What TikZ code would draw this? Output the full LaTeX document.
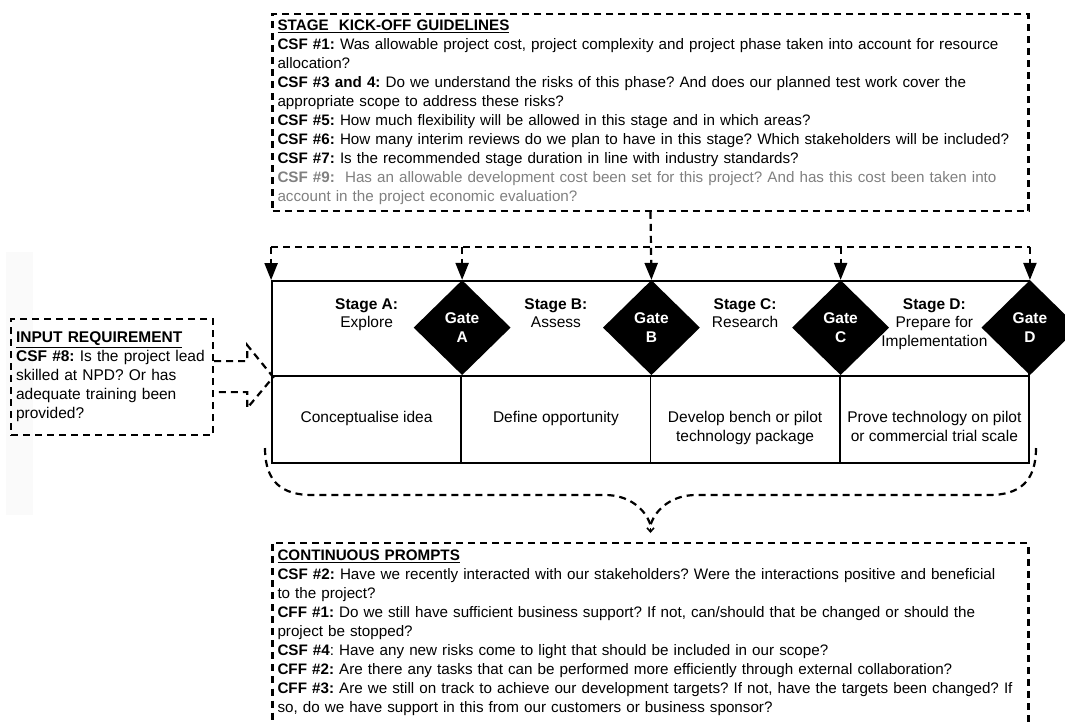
\documentclass[tikz,border=0pt]{standalone}
\usepackage{fontspec}
\setmainfont{Liberation Sans}
\usetikzlibrary{arrows.meta,positioning,shapes.geometric,calc}
\definecolor{csfgray}{RGB}{128,128,128}
\definecolor{stripgray}{RGB}{250,250,250}
\frenchspacing

\begin{document}
\begin{tikzpicture}[
  x=1pt, y=-1pt,
  every node/.style={font=\fontsize{15.2}{19}\selectfont},
  dline/.style={line width=2.2pt,dash pattern=on 7pt off 5pt},
  darr/.style={dline,-{Triangle[length=17pt,width=13pt]}},
  dbox/.style={dline,draw,align=left,inner xsep=5pt,inner ysep=6pt},
  frame/.style={draw,line width=1.8pt,inner sep=0pt,minimum height=95pt,minimum width=757pt},
  cell/.style={draw,line width=1.8pt,inner sep=0pt,minimum width=189.25pt,minimum height=87pt},
  celltext/.style={align=center,inner sep=0pt,font=\fontsize{15.5}{19}\selectfont},
  stagelbl/.style={align=center,inner sep=0pt,font=\fontsize{15.5}{18.5}\selectfont},
  gate/.style={diamond,fill=black,inner sep=0pt,minimum width=97pt,minimum height=95pt,
               align=center,text=white,font=\fontsize{15.5}{19}\selectfont\bfseries},
]
  \useasboundingbox (0,0) rectangle (1065,721);
  \clip (0,0) rectangle (1065,721);

  % faint strip on the left
  \fill[stripgray] (6,252) rectangle (33,515);

  % stage row and deliverable cells
  \node[frame] (stagerow) at (650.5,328.5) {};
  \node[cell] (cellA) at (366.6,419.5) {};
  \node[cell] (cellB) at (555.9,419.5) {};
  \node[cell] (cellC) at (745.1,419.5) {};
  \node[cell] (cellD) at (934.4,419.5) {};

  \node[celltext,below=36pt of cellA.north] (txtA) {Conceptualise idea};
  \node[celltext,below=36pt of cellB.north] (txtB) {Define opportunity};
  \node[celltext,below=36pt of cellC.north] (txtC) {Develop bench or pilot\\technology package};
  \node[celltext,below=36pt of cellD.north] (txtD) {Prove technology on pilot\\or commercial trial scale};

  % stage labels
  \node[stagelbl,anchor=north] (labA) at ($(cellA.north)+(0,-77)$) {\textbf{Stage A:}\\Explore};
  \node[stagelbl,anchor=north] (labB) at ($(cellB.north)+(0,-77)$) {\textbf{Stage B:}\\Assess};
  \node[stagelbl,anchor=north] (labC) at ($(cellC.north)+(0,-77)$) {\textbf{Stage C:}\\Research};
  \node[stagelbl,anchor=north] (labD) at ($(cellD.north)+(0,-77)$) {\textbf{Stage D:}\\Prepare for\\Implementation};

  % gates
  \node[gate] (gateA) at ($(cellA.north east)+(0,-47.5)$) {Gate\\A};
  \node[gate] (gateB) at ($(cellB.north east)+(0,-47.5)$) {Gate\\B};
  \node[gate] (gateC) at ($(cellC.north east)+(0,-47.5)$) {Gate\\C};
  \node[gate] (gateD) at ($(cellD.north east)+(0,-47.5)$) {Gate\\D};

  % kick-off guidelines
  \node[dbox,text width=746pt,anchor=north] (kick) at (650.5,13) {%
    \underline{\textbf{STAGE\ \ KICK-OFF GUIDELINES}}\\
    \textbf{CSF \#1:} Was allowable project cost, project complexity and project phase taken into account for resource\\
    allocation?\\
    \textbf{CSF \#3 and 4:} Do we understand the risks of this phase? And does our planned test work cover the\\
    appropriate scope to address these risks?\\
    \textbf{CSF \#5:} How much flexibility will be allowed in this stage and in which areas?\\
    \textbf{CSF \#6:} How many interim reviews do we plan to have in this stage? Which stakeholders will be included?\\
    \textbf{CSF \#7:} Is the recommended stage duration in line with industry standards?\\
    {\color{csfgray}\textbf{CSF \#9:}\ \ Has an allowable development cost been set for this project? And has this cost been taken into}\\
    {\color{csfgray}account in the project economic evaluation?}};

  % kick-off -> stages and gates
  \coordinate (bus) at ($(kick.south)+(0,35)$);
  \draw[dline] (stagerow.north west |- bus) -- (gateD.north |- bus);
  \draw[darr] (kick.south) -- (gateB.north);
  \foreach \g in {stagerow.north west,gateA.north,gateC.north,gateD.north}
    \draw[darr] (\g |- bus) -- (\g);

  % input requirement
  \node[dbox,text width=192pt,inner xsep=5pt,inner ysep=13pt,anchor=north west,
        font=\fontsize{15.5}{19}\selectfont] (input) at (10,318) {%
    \underline{\textbf{INPUT REQUIREMENT}}\\
    \textbf{CSF \#8:} Is the project lead\\
    skilled at NPD? Or has\\
    adequate training been\\
    provided?};
  \draw[dline] ($(input.east)+(0,-16)$) -- ++(33,0) -- ++(0,-16) -- ++(26,32)
    -- ++(-26,31) -- ++(0,-16) -- ++(-33,0);

  % continuous prompts
  \node[dbox,text width=746pt,inner ysep=7pt,text depth=190pt,anchor=north] (prompts) at (650.5,542) {%
    \underline{\textbf{CONTINUOUS PROMPTS}}\\
    \textbf{CSF \#2:} Have we recently interacted with our stakeholders? Were the interactions positive and beneficial\\
    to the project?\\
    \textbf{CFF \#1:} Do we still have sufficient business support? If not, can/should that be changed or should the\\
    project be stopped?\\
    \textbf{CSF \#4}: Have any new risks come to light that should be included in our scope?\\
    \textbf{CFF \#2:} Are there any tasks that can be performed more efficiently through external collaboration?\\
    \textbf{CFF \#3:} Are we still on track to achieve our development targets? If not, have the targets been changed? If\\
    so, do we have support in this from our customers or business sponsor?};

  % brace over the whole process
  \coordinate (bracetip) at (650.5,525);
  \draw[dline] (265,448) .. controls (265,482) and (282,495) .. (312,495) -- (605,495)
    .. controls (628,495) and (645,508) .. (bracetip);
  \draw[dline] (1036,448) .. controls (1036,482) and (1019,495) .. (989,495) -- (696,495)
    .. controls (673,495) and (656,508) .. (bracetip);
  \draw[line width=1.6pt,-{Straight Barb[length=4pt,width=7pt]},shorten <=3pt,shorten >=9pt]
    (bracetip) -- (prompts.north);
\end{tikzpicture}
\end{document}
